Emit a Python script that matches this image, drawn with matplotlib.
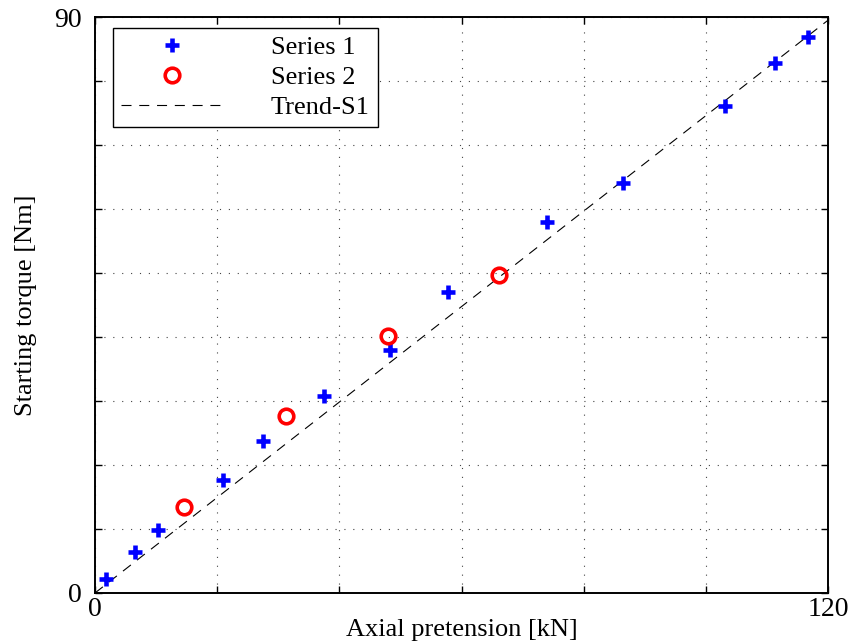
import matplotlib.pyplot as plt
from matplotlib.ticker import FixedLocator, FixedFormatter

# values
s1_x = [1.8, 6.5, 10.3, 21.0, 27.5, 37.5, 48.3, 57.8, 74.0, 86.4, 103.1, 111.3, 116.7]
s1_y = [2.2, 6.4, 9.8, 17.7, 23.8, 30.8, 38.0, 47.0, 58.0, 64.1, 76.1, 82.8, 86.9]
s2_x = [14.6, 31.3, 48.0, 66.1]
s2_y = [13.4, 27.7, 40.2, 49.7]
trend_x = [0, 120]
trend_y = [0, 89.5]

x_ticks = [0, 20, 40, 60, 80, 100, 120]
y_ticks = [0, 10, 20, 30, 40, 50, 60, 70, 80, 90]

plt.rcParams['font.family'] = ['Liberation Serif', 'DejaVu Serif']

fig = plt.figure(figsize=(8.54, 6.44), dpi=100)
ax = fig.add_axes([0.1112, 0.0792, 0.8584, 0.8944])

ax.plot(s1_x, s1_y, '+', color='#0000ff', markersize=10, markeredgewidth=3.3, label='Series 1', zorder=3)
ax.plot(s2_x, s2_y, 'o', color='#ff0000', markerfacecolor='none', markersize=10.5, markeredgewidth=2.6,
        label='Series 2', zorder=3)
ax.plot(trend_x, trend_y, '--', color='black', linewidth=0.8, dashes=(9, 7), label='Trend-S1', zorder=2)

ax.set_xlim(0, 120)
ax.set_ylim(0, 90)
ax.xaxis.set_major_locator(FixedLocator(x_ticks))
ax.yaxis.set_major_locator(FixedLocator(y_ticks))
ax.xaxis.set_major_formatter(FixedFormatter(['0', '', '', '', '', '', '120']))
ax.yaxis.set_major_formatter(FixedFormatter(['0', '', '', '', '', '', '', '', '', '90']))
ax.tick_params(direction='in', length=5, width=1, top=True, right=True, labelsize=20)
ax.tick_params(axis='x', pad=3)
ax.tick_params(axis='y', pad=9.5)
ax.grid(True, linestyle=(0, (1, 7)), color='#444444', linewidth=0.8)

for sp in ax.spines.values():
    sp.set_linewidth(1.4)

ax.set_xlabel('Axial pretension [kN]', fontsize=19)
ax.set_ylabel('Starting torque [Nm]', fontsize=19)
ax.xaxis.set_label_coords(0.5, -0.046)
ax.yaxis.set_label_coords(-0.079, 0.5)

leg = ax.legend(loc='upper left', bbox_to_anchor=(0.0246, 0.981), borderaxespad=0, fontsize=19,
                handlelength=3.9, handletextpad=1.78, borderpad=0.3, labelspacing=0.25,
                fancybox=False, framealpha=1, edgecolor='black')
leg.get_frame().set_linewidth(1.0)

fig.savefig('out.png', dpi=100)
